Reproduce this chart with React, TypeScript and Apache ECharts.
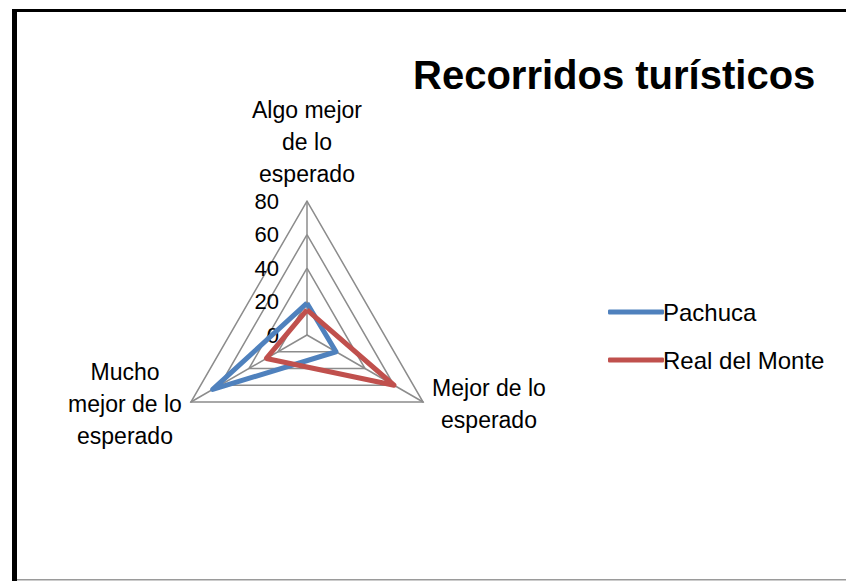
import React, { useEffect, useRef } from "react";
import * as echarts from "echarts";

const indicatorNames = [
  "Algo mejor\nde lo\nesperado",
  "Mucho\nmejor de lo\nesperado",
  "Mejor de lo\nesperado",
];
const seriesNames = ["Pachuca", "Real del Monte"];
const pachuca = [19, 65, 20];
const realDelMonte = [15, 28, 60];
const maxValue = 80;
const colors = ["#4F81BD", "#C0504D"];
const FONT = "'Liberation Sans', Arial, sans-serif";

export default function App() {
  const ref = useRef<HTMLDivElement>(null);
  useEffect(() => {
    if (!ref.current) return;
    const chart = echarts.init(ref.current, null, { renderer: "svg" });
    chart.setOption({
      animation: false,
      backgroundColor: "#ffffff",
      title: {
        text: "Recorridos turísticos",
        left: 408,
        top: 50,
        textStyle: {
          fontFamily: FONT,
          fontSize: 40,
          fontWeight: "bold",
          color: "#000",
        },
      },
      legend: {
        orient: "vertical",
        left: 603,
        top: 295,
        itemWidth: 56,
        itemHeight: 5,
        itemGap: 24,
        icon: "roundRect",
        data: seriesNames,
        textStyle: { fontFamily: FONT, fontSize: 24, color: "#000", padding: [0, 0, 0, -6] },
      },
      radar: {
        center: [307, 335],
        radius: 134,
        startAngle: 90,
        shape: "polygon",
        splitNumber: 4,
        indicator: indicatorNames.map((n, i) => ({
          name: n,
          max: maxValue,
          min: 0,
          axisLabel: { show: i === 0 },
        })),
        axisName: {
          color: "#000",
          fontFamily: FONT,
          fontSize: 23,
          lineHeight: 32,
          verticalAlign: "middle",
          formatter: (name: string) =>
            name
              .split("\n")
              .map((l) => `{c|${l}}`)
              .join("\n"),
          rich: {
            c: {
              width: 125,
              align: "center",
              fontFamily: FONT,
              fontSize: 23,
              lineHeight: 32,
              color: "#000",
            },
          },
        },
        nameGap: 4,
        splitArea: { show: false },
        splitLine: { lineStyle: { color: "#8c8c8c", width: 1.5 } },
        axisLine: { lineStyle: { color: "#8c8c8c", width: 1.5 } },
        axisTick: { show: false },
        axisLabel: {
          show: true,
          color: "#000",
          fontFamily: FONT,
          fontSize: 22,
          margin: 28,
        },
      },
      series: [
        {
          type: "radar",
          symbol: "none",
          data: [
            {
              name: seriesNames[0],
              value: pachuca,
              lineStyle: { color: colors[0], width: 5, join: "round" },
              itemStyle: { color: colors[0] },
            },
            {
              name: seriesNames[1],
              value: realDelMonte,
              lineStyle: { color: colors[1], width: 5, join: "round" },
              itemStyle: { color: colors[1] },
            },
          ],
        },
      ],
      graphic: [
        { type: "rect", shape: { x: 12, y: 9, width: 834, height: 3 }, style: { fill: "#000" } },
        { type: "rect", shape: { x: 12, y: 9, width: 5, height: 572 }, style: { fill: "#000" } },
        { type: "rect", shape: { x: 17, y: 579, width: 829, height: 1.5 }, style: { fill: "#9a9a9a" } },
      ],
    });
    return () => chart.dispose();
  }, []);
  return (
    <div
      ref={ref}
      style={{ position: "fixed", left: 0, top: 0, width: 846, height: 581 }}
    />
  );
}
